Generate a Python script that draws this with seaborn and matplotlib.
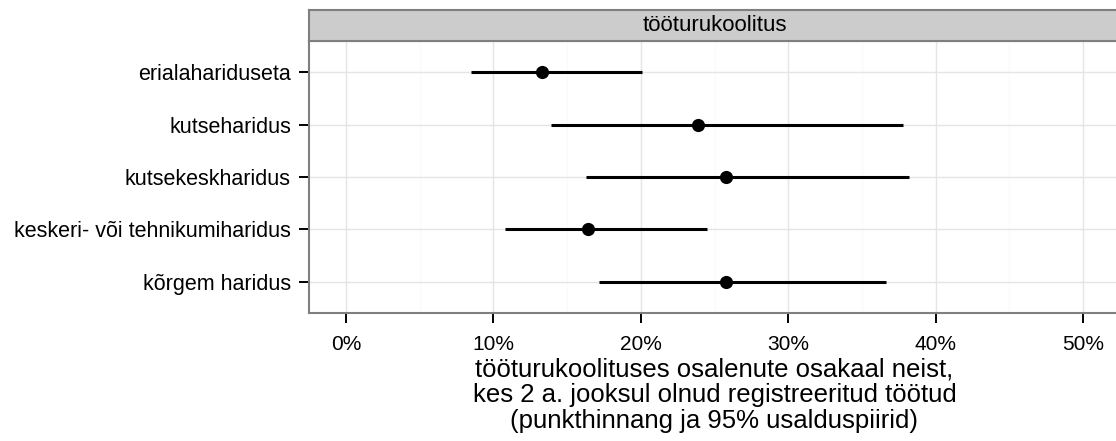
import matplotlib

matplotlib.use("Agg")
import matplotlib.pyplot as plt
import numpy as np
import pandas as pd
import seaborn as sns
from matplotlib.ticker import FuncFormatter, MultipleLocator

# education level (top to bottom) with point estimate and 95% CI, in %
categories = [
    "erialahariduseta",
    "kutseharidus",
    "kutsekeskharidus",
    "keskeri- või tehnikumiharidus",
    "kõrgem haridus",
]
estimate = [13.3, 23.9, 25.8, 16.4, 25.8]
ci_low = [8.5, 13.9, 16.3, 10.8, 17.2]
ci_high = [20.1, 37.8, 38.2, 24.5, 36.6]

x_ticks = [0, 10, 20, 30, 40, 50]
strip_label = "tööturukoolitus"
x_title = (
    "tööturukoolituses osalenute osakaal neist,\n"
    "kes 2 a. jooksul olnud registreeritud töötud\n"
    "(punkthinnang ja 95% usalduspiirid)"
)

df = pd.DataFrame(
    {
        "haridus": categories,
        "pos": np.arange(len(categories)),
        "est": estimate,
        "lo": ci_low,
        "hi": ci_high,
    }
)

sns.set_theme(style="white")
plt.rcParams["font.family"] = ["Liberation Sans", "DejaVu Sans"]

W, H = 1116, 441
fig = plt.figure(figsize=(W / 100, H / 100), dpi=100)

# panel geometry in pixels (right edge runs past the image like the original crop)
left, right, top, bottom = 309, 1120, 41, 313
ax = fig.add_axes([left / W, 1 - bottom / H, (right - left) / W, (bottom - top) / H])
strip = fig.add_axes([left / W, 1 - top / H, (right - left) / W, 31 / H])

ax.hlines(df["pos"], df["lo"], df["hi"], color="black", linewidth=2.2, zorder=3)
sns.scatterplot(
    data=df, x="est", y="pos", ax=ax, color="black", s=90,
    edgecolor="black", linewidth=0, zorder=4, legend=False,
)

ax.set_xlim(-2.5, 52.5)
ax.set_ylim(len(categories) - 0.4, -0.6)
ax.set_xticks(x_ticks)
ax.xaxis.set_minor_locator(MultipleLocator(5))
ax.xaxis.set_major_formatter(FuncFormatter(lambda v, _: f"{v:.0f}%"))
ax.set_yticks(df["pos"])
ax.set_yticklabels(categories)

ax.grid(True, which="major", color="#E5E5E5", linewidth=1.0)
ax.grid(True, which="minor", axis="x", color="#FAFAFA", linewidth=1.0)
ax.set_axisbelow(True)
for sp in ax.spines.values():
    sp.set_color("#7F7F7F")
    sp.set_linewidth(1.5)

ax.tick_params(axis="both", which="major", length=7, width=1.4, color="black",
               labelcolor="black")
ax.tick_params(axis="x", which="major", pad=9, bottom=True, labelsize=15)
ax.tick_params(axis="y", which="major", pad=6, left=True, labelsize=15.5)
ax.tick_params(axis="x", which="minor", length=0)

ax.set_ylabel("")
ax.set_xlabel(x_title, fontsize=18.5, linespacing=1.1, labelpad=2, color="black")

# facet strip
strip.set_facecolor("#CCCCCC")
strip.set_xticks([])
strip.set_yticks([])
for sp in strip.spines.values():
    sp.set_color("#7F7F7F")
    sp.set_linewidth(1.5)
strip.text(0.5, 0.5, strip_label, transform=strip.transAxes, ha="center",
           va="center", fontsize=16, color="black")

fig.savefig("out.png", dpi=100)
